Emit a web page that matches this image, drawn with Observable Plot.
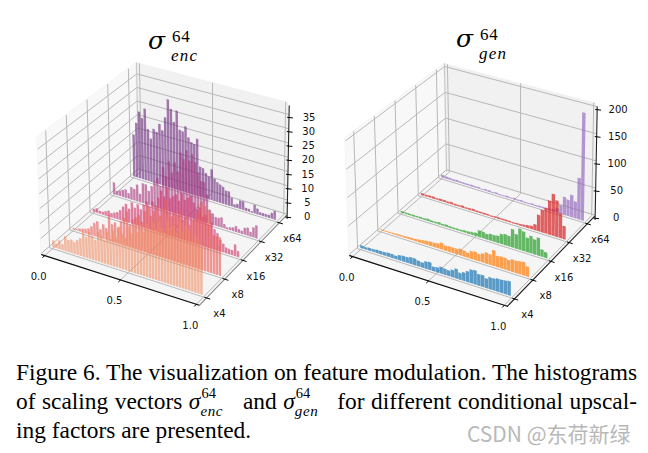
<!DOCTYPE html>
<html><head><meta charset="utf-8">
<script src="https://cdn.jsdelivr.net/npm/d3@7"></script>
<script src="https://cdn.jsdelivr.net/npm/@observablehq/plot@0.6"></script>
<style>
html,body{margin:0;padding:0;background:#fff;width:648px;height:453px;overflow:hidden}
#wrap{position:relative;width:648px;height:453px}
#titles{position:relative;height:60px}
.ttl{position:absolute;font-family:"Liberation Serif",serif;color:#000;line-height:1}
.ttl .sg{position:absolute;font-family:"DejaVu Serif",serif;font-size:25px;font-style:italic;left:0;top:0}
.ttl .up{position:absolute;font-size:17px;left:24px;top:0;letter-spacing:.8px}
.ttl .dn{position:absolute;font-size:17px;font-style:italic;left:23px;top:19px;letter-spacing:1.2px}
svg{display:block}
#cap{position:absolute;left:16px;top:358px;width:621px;font-family:"Liberation Serif",serif;font-size:23.4px;color:#000}
#cap .l{height:29px;line-height:29px;white-space:nowrap;text-align:justify;text-align-last:justify}
#cap .l.e{text-align-last:left}
.st{display:inline-block;position:relative;height:0;width:36px;text-align:left}
.st b{position:absolute;left:1px;top:-23px;font-weight:normal;font-size:14.5px;line-height:1}
.st i{position:absolute;left:0;top:-5px;font-size:15px;line-height:1;letter-spacing:.6px}
#wm{position:absolute;left:467px;top:421px;font-family:"Noto Sans CJK SC","Noto Sans",sans-serif;font-size:21px;color:#b8b8b8;white-space:nowrap;background:#fff;line-height:1.2}
</style></head><body>
<div id="wrap">
<div id="titles">
  <div class="ttl" style="left:148px;top:28px"><span class="sg">σ</span><span class="up">64</span><span class="dn">enc</span></div>
  <div class="ttl" style="left:456px;top:26px"><span class="sg">σ</span><span class="up">64</span><span class="dn">gen</span></div>
</div>
<div id="chart"></div>
<div id="cap">
<div class="l">Figure 6. The visualization on feature modulation. The histograms</div>
<div class="l">of scaling vectors <i>σ</i><span class="st"><b>64</b><i>enc</i></span> and <i>σ</i><span class="st"><b>64</b><i>gen</i></span> for different conditional upscal-</div>
<div class="l e">ing factors are presented.</div>
</div>
<div id="wm">CSDN @东荷新绿</div>
</div>
<script>
const factors = ["x4","x8","x16","x32","x64"];
const xTicks = [0, 0.5, 1];
const xTickLabels = ["0.0","0.5","1.0"];
const zTicksEnc = [0,5,10,15,20,25,30,35];
const zTicksGen = [0,50,100,150,200];

const enc4 = [2.3,1.5,3,2,5,4,4.5,4,5,6,8.5,7,9,8,7,10,9,8,11,9,12,10,14,12,11,15,13,16,14,17,15,18,16,19,17,20,18,17,21,19,20,18,22,19,21,20,17,19,18,16];
const enc8 = [.5,.5,1,1.3,1.5,2,3,4.5,5.4,3,5,4,9,6,7,5.5,8,9.5,12,8,10,11,12,10,14,16.5,13,15,17,14,17,20,16,15,17,16,18,15,17,14,16,17,19,23,22,21,20,13,13,13];
const enc16 = [1,1.5,1,1,1.5,2,1.5,2,2.5,3.5,5,6.3,5,7.5,6,7.4,6,8,9.4,8,10,9,12,14.7,13,16.4,13,14,15,13,16,14,15,16,14,12,13,10,11,8,9,7,6,4,3,2,1.8,1.7,4,2];
const enc32 = [4.2,1.5,2,2.5,3,2,4.4,4,6,3,7,7,5,7,9,10.6,8,15,12,17.7,14,18,15,22,20,23.4,20,22.5,20,16.7,14,14,10,5,4,3,3,3.5,1.5,.7,1,1.3,2,1.3,1,2.4,2.8,1.6,3.5,4.5];
const enc64 = [15.4,19.9,24.3,22.2,26,18.8,15.7,19.5,18.7,21.9,19.9,24.9,31.7,28.5,24.1,28.5,21.9,21.6,23.7,20,18.6,18.2,20.4,10.8,10.5,9.1,8.2,11,8,7,6.5,6,5,5,3,1,1.5,3,3,1,1,.5,3,2,1,1,1,1,2,3];

const gen4 = [5,4,5,5,6,6,6,7,7,6,9,10,10,12,12,10,9,13,14,8,9,12,11,10,13,17,12,15,19,24,25,20,21,17,21,21,23,23,24,25];
const gen8 = [2,2,2,2,3,3,3,4,4,4,5,6,7,8,8,9,12,9,10,10,10,12,11,9,14,15,13,16,20,19,28,20,21,21,19,22,22,23,24,18];
const gen16 = [3,3,3,3,3,3,3,4,3,3,4,3,4,3,3,3,3,4,4,5,6,12,12,10,12,12,13,18,20,19,33,26,38,35,26,31,27,32,13,10];
const gen32 = [4,3,4,4,3,4,4,3,4,3,3,4,3,3,4,3,3,3,3,2,3,3,3,3,3,2,3,3,4,5,6,11,30,41,46,62,76,66,45,24];
const gen64 = [5,4,4,3,4,3,3,3,3,3,3,2,3,3,2,3,2,2,3,2,3,2,3,2,2,3,2,3,3,3,4,5,9,16,33,30,41,31,76,198];

const encSeries = [enc4,enc8,enc16,enc32,enc64];
const genSeries = [gen4,gen8,gen16,gen32,gen64];
const encColors = ["#f08a60","#e8605a","#d03c70","#a83a80","#6d2a80"];
const genColors = ["#1f77b4","#ff7f0e","#2ca02c","#d62728","#9467bd"];

const floorC = {a:[46,252],b:[197.5,300.6],c:[139,170.75],d:[281.5,214.4]};
const topC   = {a:[42,133],b:[197,180],c:[137,62],d:[283.5,100.4]};
const lerp=(a,b,t)=>a+(b-a)*t;
function projector(dx,dy,zTop){
  return (u,v,z)=>{
    const w=z/zTop;
    const f=k=>lerp(lerp(lerp(floorC.a[k],floorC.b[k],u),lerp(floorC.c[k],floorC.d[k],u),v),
                    lerp(lerp(topC.a[k],topC.b[k],u),lerp(topC.c[k],topC.d[k],u),v),w);
    return {x:f(0)+dx,y:f(1)+dy};
  };
}
const vOf = s => (s+0.3)/4.6;
const U0=-0.02,U1=1.02,V0=-0.02,V1=1.02;

function quad(id,a,b,c,d){
  return [{id,x1:a.x,y1:a.y,x2:d.x,y2:d.y},{id,x1:b.x,y1:b.y,x2:c.x,y2:c.y}];
}
function panel(o){
  const P=projector(o.dx,o.dy,o.zTop), Z0=o.zFloor, Z1=o.zWall, marks=[];
  const pane=(rows,fill)=>marks.push(Plot.area(rows,{x1:"x1",y1:"y1",x2:"x2",y2:"y2",z:"id",fill,stroke:"#ececec",strokeWidth:.5}));
  pane(quad("l",P(U0,V0,Z0),P(U0,V1,Z0),P(U0,V1,Z1),P(U0,V0,Z1)),"#f8f8f8");
  pane(quad("b",P(U0,V1,Z0),P(U1,V1,Z0),P(U1,V1,Z1),P(U0,V1,Z1)),"#f1f1f1");
  pane(quad("f",P(U0,V0,Z0),P(U1,V0,Z0),P(U1,V1,Z0),P(U0,V1,Z0)),"#f5f5f5");
  const grid=[];
  const addLine=(id,pts)=>pts.forEach(p=>grid.push({id,x:p.x,y:p.y}));
  xTicks.forEach((t,i)=>addLine("gx"+i,[P(t,V0,Z0),P(t,V1,Z0),P(t,V1,Z1)]));
  factors.forEach((t,i)=>addLine("gy"+i,[P(U1,vOf(i),Z0),P(U0,vOf(i),Z0),P(U0,vOf(i),Z1)]));
  o.zTicks.forEach((t,i)=>addLine("gz"+i,[P(U1,V1,t),P(U0,V1,t),P(U0,V0,t)]));
  marks.push(Plot.line(grid,{x:"x",y:"y",z:"id",stroke:"#b4b4b4",strokeWidth:.95,curve:"linear"}));
  const edge=[];
  function addEdge(a,b,id){edge.push({id,x:a.x,y:a.y},{id,x:b.x,y:b.y});}
  addEdge(P(U0,V1,Z0),P(U0,V1,Z1),"e1");
  addEdge(P(U0,V0,Z0),P(U1,V0,Z0),"e2");
  marks.push(Plot.line(edge,{x:"x",y:"y",z:"id",stroke:"#c4c4c4",strokeWidth:1}));
  for(let s=4;s>=0;s--){
    const vals=o.series[s], n=vals.length, v=vOf(s), rows=[];
    vals.forEach((h,i)=>{
      const u0=(i+.5-o.barW/2)/n,u1=(i+.5+o.barW/2)/n;
      rows.push(...quad(s+"-"+i,P(u0,v,0),P(u1,v,0),P(u1,v,h),P(u0,v,h)));
    });
    marks.push(Plot.area(rows,{x1:"x1",y1:"y1",x2:"x2",y2:"y2",z:"id",fill:o.colors[s],fillOpacity:o.alpha[s]}));
  }
  const ax=[];
  const seg=(id,a,b)=>ax.push({id,x:a.x,y:a.y},{id,x:b.x,y:b.y});
  seg("xa",P(U0,V0,Z0),P(U1,V0,Z0));
  seg("ya",P(U1,V0,Z0),P(U1,V1,Z0));
  const zShift=p=>({x:p.x+.6,y:p.y+3});
  seg("za",zShift(P(U1,V1,Z0)),zShift(P(U1,V1,Z1)));
  const axs=ax.filter(d=>d.id=="xa"), ays=ax.filter(d=>d.id=="ya"), azs=ax.filter(d=>d.id=="za");
  marks.push(Plot.line(axs,{x:"x",y:"y",stroke:"#111",strokeWidth:1.1}));
  marks.push(Plot.line(ays,{x:"x",y:"y",stroke:o.yAxisColor,strokeWidth:1.1}));
  marks.push(Plot.line(azs,{x:"x",y:"y",stroke:"#222",strokeWidth:1.1}));
  const tk=[];
  function seg2(id,a,b){tk.push({id,x:a.x,y:a.y},{id,x:b.x,y:b.y});}
  xTicks.forEach((t,i)=>seg2("tx"+i,P(t,V0,Z0),P(t,V0-.022,Z0)));
  factors.forEach((t,i)=>seg2("ty"+i,P(U1-.012,vOf(i),Z0),P(U1+.022,vOf(i),Z0)));
  o.zTicks.forEach((t,i)=>{const p=zShift(P(U1,V1,t));tk.push({id:"tz"+i,x:p.x-1.5,y:p.y},{id:"tz"+i,x:p.x+3.5,y:p.y+.6});});
  marks.push(Plot.line(tk,{x:"x",y:"y",z:"id",stroke:"#000",strokeWidth:1}));
  const txt={fontFamily:"DejaVu Sans",fontSize:10,fill:"#111",textAnchor:"middle"};
  marks.push(Plot.text(xTicks.map((t,i)=>({...P(t,V0,Z0),label:xTickLabels[i]})),{x:"x",y:"y",text:"label",dx:-6,dy:21,...txt}));
  marks.push(Plot.text(factors.map((t,i)=>({...P(U1,vOf(i),Z0),label:t})),{x:"x",y:"y",text:"label",dx:13,dy:16,...txt}));
  marks.push(Plot.text(o.zTicks.map(t=>({...zShift(P(U1,V1,t)),label:String(t)})),{x:"x",y:"y",text:"label",dx:o.zLabelDx,dy:0,...txt}));
  return marks;
}
const top0=60, H=285;
const marks=[
  ...panel({dx:0,dy:0,zTop:40,zFloor:-.5,zWall:39,zTicks:zTicksEnc,series:encSeries,colors:encColors,alpha:[.58,.62,.64,.62,.62],barW:.84,yAxisColor:"#888",zLabelDx:20}),
  ...panel({dx:308,dy:1,zTop:210,zFloor:-2.6,zWall:205,zTicks:zTicksGen,series:genSeries,colors:genColors,alpha:[.72,.72,.72,.72,.68],barW:.92,yAxisColor:"#222",zLabelDx:21})
];
const chart=Plot.plot({
  width:648,height:H,margin:0,
  x:{domain:[0,648],range:[0,648],axis:null},
  y:{domain:[top0,top0+H],range:[0,H],axis:null},
  style:{background:"transparent"},
  marks
});
document.getElementById("chart").appendChild(chart);
</script>
</body></html>
